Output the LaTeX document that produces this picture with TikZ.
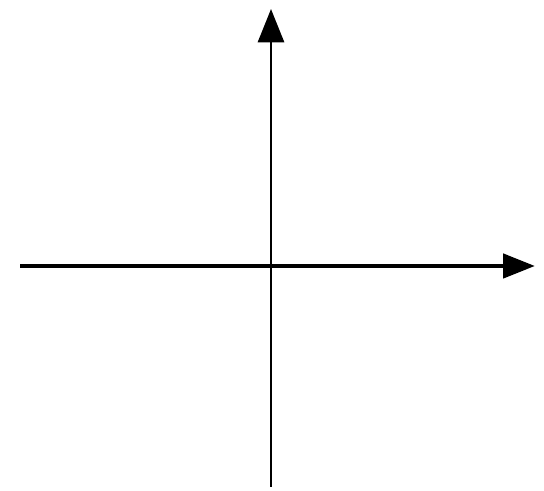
\documentclass[tikz,border=0pt]{standalone}
\usetikzlibrary{arrows.meta}
\begin{document}
\begin{tikzpicture}[x=0.75pt,y=-0.75pt,
  haxis/.style={line width=3.6pt,-{Triangle[length=24pt,width=18pt]}},
  vaxis/.style={line width=2.2pt,-{Triangle[length=25pt,width=19.5pt]}}]
\useasboundingbox (0,0) rectangle (544,491);
\coordinate (xl) at (20,266);
\coordinate (xr) at (535,266);
\coordinate (yb) at (271,487);
\coordinate (yt) at (271,9);
\draw[haxis] (xl) -- (xr);
\draw[vaxis] (yb) -- (yt);
\end{tikzpicture}
\end{document}
